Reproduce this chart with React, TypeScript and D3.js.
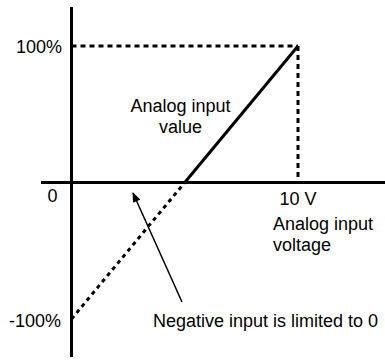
import React from "react";
import * as d3 from "d3";

// Data
const inputVoltage = [0, 5, 10];
const rawValue = [-100, 0, 100];
const limitedVoltage = [5, 10];
const limitedValue = [0, 100];
const yTickValues = [100, 0, -100];
const yTickLabels = ["100%", "0", "-100%"];
const xTickValue = 10;
const xTickLabel = "10 V";

const W = 385;
const H = 360;
const FONT = "'Liberation Sans', Arial, sans-serif";

export default function App() {
  const x = d3.scaleLinear().domain([0, 10]).range([71.5, 298]);
  const y = d3.scaleLinear().domain([-100, 100]).range([319, 46]);
  const line = d3
    .line<[number, number]>()
    .x((d) => x(d[0]))
    .y((d) => y(d[1]));

  const rawPts: [number, number][] = inputVoltage
    .slice(0, 2)
    .map((v, i) => [v, rawValue[i]]);
  const limPts: [number, number][] = limitedVoltage.map((v, i) => [v, limitedValue[i]]);

  const x0 = x(0);
  const y0 = y(0);

  return (
    <svg
      width={W}
      height={H}
      style={{ position: "fixed", left: 0, top: 0, background: "#fff" }}
      fontFamily={FONT}
    >
      <defs>
        <marker
          id="ah"
          viewBox="0 0 10 8"
          refX="9"
          refY="4"
          markerWidth="11"
          markerHeight="8"
          markerUnits="userSpaceOnUse"
          orient="auto"
        >
          <path d="M0,0 L10,4 L0,8 Z" fill="#000" />
        </marker>
      </defs>
      {/* dashed guides */}
      <line
        x1={x0}
        x2={x(xTickValue)}
        y1={y(100)}
        y2={y(100)}
        stroke="#000"
        strokeWidth={3}
        strokeDasharray="5,4"
      />
      <line
        x1={x(xTickValue)}
        x2={x(xTickValue)}
        y1={y(100)}
        y2={y0}
        stroke="#000"
        strokeWidth={3}
        strokeDasharray="5,4"
      />
      {/* raw (negative) dashed line */}
      <path d={line(rawPts) || ""} fill="none" stroke="#000" strokeWidth={3} strokeDasharray="4,4" />
      {/* limited value solid */}
      <path d={line(limPts) || ""} fill="none" stroke="#000" strokeWidth={3} />
      {/* axes */}
      <line x1={x0} x2={x0} y1={7} y2={357} stroke="#000" strokeWidth={3} />
      <line x1={41} x2={385} y1={y0} y2={y0} stroke="#000" strokeWidth={3.2} />

      {/* y tick labels */}
      <text x={62} y={y(yTickValues[0]) + 7} textAnchor="end" fontSize={18}>
        {yTickLabels[0]}
      </text>
      <text x={52.5} y={y0 + 19} textAnchor="middle" fontSize={18}>
        {yTickLabels[1]}
      </text>
      <text x={61} y={y(yTickValues[2]) + 8} textAnchor="end" fontSize={18}>
        {yTickLabels[2]}
      </text>
      {/* x tick label */}
      <text x={x(xTickValue)} y={y0 + 22} textAnchor="middle" fontSize={18}>
        {xTickLabel}
      </text>
      <text x={273} y={230} fontSize={18}>
        Analog input
      </text>
      <text x={273} y={251} fontSize={18}>
        voltage
      </text>
      <text x={180.5} y={112} textAnchor="middle" fontSize={18}>
        Analog input
      </text>
      <text x={180.5} y={133} textAnchor="middle" fontSize={18}>
        value
      </text>
      {/* annotation */}
      <line x1={182} y1={302} x2={133} y2={193} stroke="#000" strokeWidth={1.5} markerEnd="url(#ah)" />
      <text x={153} y={327} fontSize={18}>
        Negative input is limited to 0
      </text>
    </svg>
  );
}
